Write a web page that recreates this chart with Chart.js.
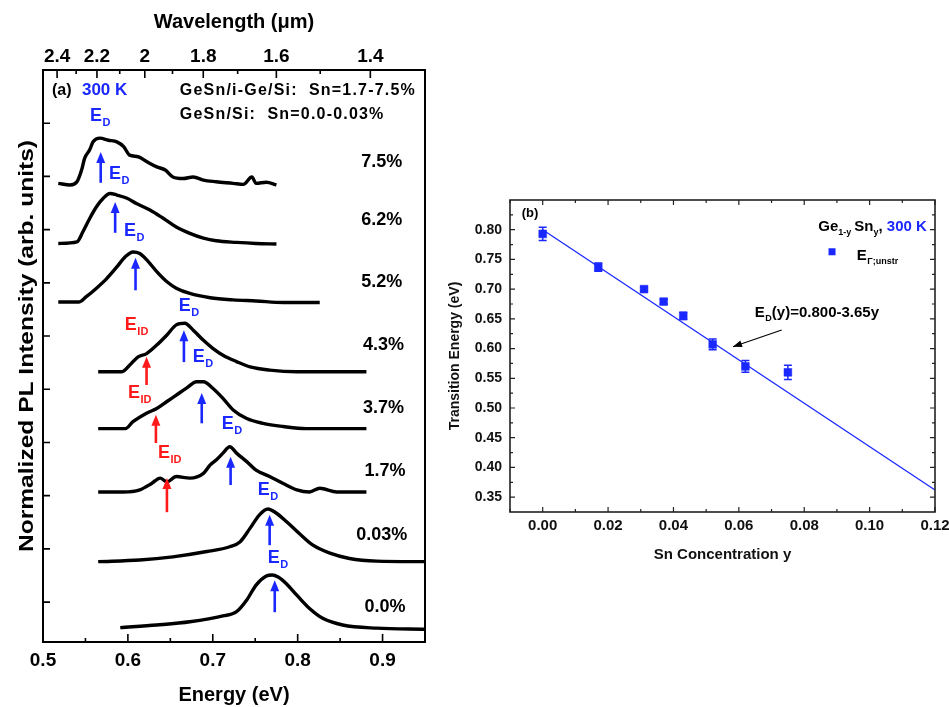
<!DOCTYPE html>
<html><head><meta charset="utf-8">
<script src="https://cdn.jsdelivr.net/npm/chart.js@4.4.1/dist/chart.umd.min.js"></script>
<style>
html,body{margin:0;padding:0;background:#fff;}
#wrap{position:relative;width:949px;height:707px;overflow:hidden;background:#fff;}
#c1{position:absolute;left:0;top:0;}
#c2{position:absolute;left:440px;top:0;}
</style></head><body>
<div id="wrap">
<canvas id="c1" width="440" height="707"></canvas>
<canvas id="c2" width="509" height="707"></canvas>
</div>
<script>
// ---------------- Panel (a) data: PL spectra (energy in eV, offset intensity) ----------------
const e75 = [0.518,0.532,0.540,0.546,0.549,0.555,0.559,0.567,0.577,0.587,0.595,0.602,0.612,0.622,0.634,0.644,0.653,0.665,0.677,0.689,0.704,0.724,0.736,0.746,0.751,0.763,0.775];
const i75 = [7.87,7.84,7.90,8.15,8.34,8.50,8.65,8.72,8.68,8.65,8.56,8.40,8.37,8.28,8.18,8.12,7.99,7.96,7.99,7.93,7.90,7.87,7.85,7.99,7.87,7.89,7.84];
const e62 = [0.518,0.540,0.547,0.555,0.563,0.571,0.579,0.587,0.599,0.610,0.626,0.642,0.657,0.673,0.689,0.704,0.728,0.751,0.775];
const i62 = [6.74,6.77,6.96,7.21,7.43,7.59,7.68,7.65,7.59,7.49,7.37,7.21,7.05,6.93,6.84,6.79,6.76,6.74,6.73];
const e52 = [0.518,0.542,0.551,0.563,0.575,0.587,0.597,0.606,0.614,0.624,0.634,0.646,0.657,0.673,0.697,0.724,0.751,0.783,0.826];
const i52 = [5.64,5.64,5.74,5.90,6.08,6.30,6.49,6.58,6.55,6.40,6.21,6.02,5.90,5.80,5.72,5.68,5.66,5.63,5.63];
const e43 = [0.565,0.593,0.602,0.612,0.622,0.634,0.646,0.657,0.667,0.677,0.689,0.700,0.712,0.728,0.744,0.767,0.799,0.838,0.881];
const i43 = [4.33,4.33,4.45,4.61,4.67,4.83,5.02,5.21,5.24,5.11,4.92,4.77,4.64,4.52,4.42,4.36,4.33,4.33,4.33];
const e37 = [0.565,0.597,0.606,0.622,0.634,0.646,0.657,0.669,0.681,0.689,0.700,0.712,0.724,0.740,0.759,0.783,0.810,0.846,0.881];
const i37 = [3.26,3.26,3.39,3.55,3.64,3.77,3.89,4.02,4.14,4.14,4.02,3.83,3.61,3.45,3.36,3.30,3.26,3.26,3.26];
const e17 = [0.565,0.595,0.614,0.628,0.638,0.646,0.657,0.673,0.689,0.697,0.704,0.712,0.720,0.728,0.740,0.751,0.767,0.783,0.799,0.814,0.826,0.846,0.881];
const i17 = [2.07,2.07,2.11,2.23,2.33,2.26,2.36,2.33,2.42,2.58,2.67,2.80,2.92,2.80,2.64,2.48,2.36,2.23,2.11,2.07,2.14,2.07,2.07];
const e003 = [0.565,0.614,0.653,0.693,0.720,0.732,0.744,0.755,0.765,0.775,0.787,0.802,0.818,0.838,0.861,0.893,0.950];
const i003 = [0.76,0.79,0.85,0.95,1.04,1.13,1.39,1.64,1.75,1.67,1.51,1.29,1.07,0.92,0.82,0.77,0.76];
const e00 = [0.591,0.634,0.673,0.712,0.728,0.740,0.751,0.763,0.770,0.777,0.787,0.799,0.814,0.830,0.853,0.893,0.950];
const i00 = [-0.48,-0.43,-0.37,-0.26,-0.18,0.04,0.32,0.49,0.51,0.47,0.34,0.13,-0.12,-0.31,-0.43,-0.49,-0.51];

const sampleNames = ['7.5%','6.2%','5.2%','4.3%','3.7%','1.7%','0.03%','0.0%'];
const sampleLabelE = [0.899,0.899,0.899,0.901,0.901,0.903,0.899,0.903];
const sampleLabelV = [8.27,7.18,6.02,4.83,3.65,2.46,1.26,-0.09];

// E_D arrows (blue) and E_ID arrows (red)
const edArrowE = [0.568,0.585,0.609,0.666,0.687,0.721,0.767,0.773];
const edArrowFrom = [7.88,6.94,5.86,4.51,3.36,2.20,1.07,-0.19];
const edArrowTo = [8.46,7.52,6.47,5.11,3.93,2.73,1.64,0.41];
const edLabelE = [0.5624,0.5847,0.6024,0.6671,0.6835,0.7176,0.760,0.7718];
const edLabelV = [9.14,8.05,6.97,5.56,4.61,3.35,2.11,0.83];
const idArrowE = [0.622,0.633,0.646];
const idArrowFrom = [4.08,2.99,1.69];
const idArrowTo = [4.61,3.52,2.33];
const idLabelE = [0.6035,0.6071,0.6424];
const idLabelV = [5.21,3.93,2.80];

// axis ticks
const energyTicks = [0.5,0.6,0.7,0.8,0.9];
const energyMinor = [0.55,0.65,0.75,0.85,0.95];
const wlTicks = [2.4,2.2,2.0,1.8,1.6,1.4];
const wlMinor = [2.3,2.1,1.9,1.7,1.5];
const intensityTicks = [0,1,2,3,4,5,6,7,8,9];
const HC = 1.23984; // eV*um

// ---------------- Panel (b) data ----------------
const snConc = [0.000,0.017,0.031,0.037,0.043,0.052,0.062,0.075];
const transE = [0.793,0.737,0.700,0.679,0.655,0.607,0.570,0.560];
const transErr = [0.011,0.007,0.003,0.004,0.006,0.009,0.010,0.012];
const fitX = [0.000,0.120];
const fitY = [0.800,0.362];
const concTicks = [0,0.02,0.04,0.06,0.08,0.10,0.12];
const concMinor = [-0.01,0.01,0.03,0.05,0.07,0.09,0.11];
const energyBTicks = [0.35,0.40,0.45,0.50,0.55,0.60,0.65,0.70,0.75,0.80];
const energyBMinor = [0.375,0.425,0.475,0.525,0.575,0.625,0.675,0.725,0.775,0.825];

const FONT = "'Liberation Sans', Arial, Helvetica, sans-serif";
const BLUE = '#1a28ff';
const RED = '#ff1a1a';
Chart.defaults.font.family = FONT;
Chart.defaults.color = '#000';

function innerTicks(ctx, chart, scaleId, values, len, side) {
  const s = chart.scales[scaleId], a = chart.chartArea;
  ctx.beginPath();
  values.forEach(v => {
    const p = s.getPixelForValue(v);
    if (side === 'bottom') { ctx.moveTo(p, a.bottom); ctx.lineTo(p, a.bottom - len); }
    if (side === 'top') { ctx.moveTo(p, a.top); ctx.lineTo(p, a.top + len); }
    if (side === 'left') { ctx.moveTo(a.left, p); ctx.lineTo(a.left + len, p); }
    if (side === 'right') { ctx.moveTo(a.right, p); ctx.lineTo(a.right - len, p); }
  });
  ctx.stroke();
}
function upArrow(ctx, x, yTail, yHead, color, lw, hw, hl) {
  ctx.strokeStyle = color; ctx.fillStyle = color; ctx.lineWidth = lw;
  ctx.beginPath(); ctx.moveTo(x, yTail); ctx.lineTo(x, yHead + hl - 1); ctx.stroke();
  ctx.beginPath(); ctx.moveTo(x, yHead); ctx.lineTo(x - hw, yHead + hl); ctx.lineTo(x + hw, yHead + hl); ctx.closePath(); ctx.fill();
}
function labelWithSub(ctx, x, y, main, sub, size, subSize, color, align) {
  ctx.fillStyle = color; ctx.textBaseline = 'middle';
  ctx.font = 'bold ' + size + 'px ' + FONT;
  const w = ctx.measureText(main).width;
  let left = align === 'center' ? x - w / 2 : x;
  ctx.textAlign = 'left';
  ctx.fillText(main, left, y);
  ctx.font = 'bold ' + subSize + 'px ' + FONT;
  ctx.fillText(sub, left + w + 0.5, y + size * 0.38);
  return left + w + 0.5 + ctx.measureText(sub).width;
}

// ---------------- Panel (a) ----------------
const spectra = [[e75,i75],[e62,i62],[e52,i52],[e43,i43],[e37,i37],[e17,i17],[e003,i003],[e00,i00]];

const leftPlugin = {
  id: 'leftDecor',
  afterDraw(chart) {
    const ctx = chart.ctx, a = chart.chartArea;
    const X = chart.scales.x, Y = chart.scales.y;
    ctx.save();
    // frame
    ctx.strokeStyle = '#000'; ctx.lineWidth = 2;
    ctx.strokeRect(a.left, a.top, a.right - a.left, a.bottom - a.top);
    ctx.lineWidth = 1.6;
    innerTicks(ctx, chart, 'x', energyTicks, 8, 'bottom');
    innerTicks(ctx, chart, 'x', energyMinor, 4, 'bottom');
    innerTicks(ctx, chart, 'x2', wlTicks.map(w => HC / w), 8, 'top');
    innerTicks(ctx, chart, 'x2', wlMinor.map(w => HC / w), 4, 'top');
    innerTicks(ctx, chart, 'y', intensityTicks, 7, 'left');
    // y title (stretched along its direction)
    const yt = 'Normalized PL Intensity (arb. units)';
    ctx.save();
    ctx.translate(a.left - 16, (a.top + a.bottom) / 2 - 10);
    ctx.rotate(-Math.PI / 2);
    ctx.font = 'bold 20px ' + FONT;
    const tw = ctx.measureText(yt).width;
    ctx.scale(412 / tw, 1);
    ctx.textAlign = 'center'; ctx.textBaseline = 'middle'; ctx.fillStyle = '#000';
    ctx.fillText(yt, 0, 0);
    ctx.restore();
    // arrows
    edArrowE.forEach((e, k) => upArrow(ctx, X.getPixelForValue(e), Y.getPixelForValue(edArrowFrom[k]), Y.getPixelForValue(edArrowTo[k]), BLUE, 2.6, 4.5, 11));
    idArrowE.forEach((e, k) => upArrow(ctx, X.getPixelForValue(e), Y.getPixelForValue(idArrowFrom[k]), Y.getPixelForValue(idArrowTo[k]), RED, 2.6, 4.5, 11));
    edLabelE.forEach((e, k) => labelWithSub(ctx, X.getPixelForValue(e), Y.getPixelForValue(edLabelV[k]), 'E', 'D', 18, 11, BLUE, 'center'));
    idLabelE.forEach((e, k) => labelWithSub(ctx, X.getPixelForValue(e), Y.getPixelForValue(idLabelV[k]), 'E', 'ID', 18, 11, RED, 'center'));
    // sample labels
    ctx.font = 'bold 18px ' + FONT; ctx.fillStyle = '#000'; ctx.textAlign = 'center'; ctx.textBaseline = 'middle';
    sampleNames.forEach((n, k) => ctx.fillText(n, X.getPixelForValue(sampleLabelE[k]), Y.getPixelForValue(sampleLabelV[k])));
    // header
    ctx.textAlign = 'left';
    ctx.font = 'bold 16px ' + FONT; ctx.fillStyle = '#000';
    ctx.fillText('(a)', X.getPixelForValue(0.5106), Y.getPixelForValue(9.61));
    ctx.font = 'bold 17px ' + FONT; ctx.fillStyle = BLUE;
    ctx.fillText('300 K', X.getPixelForValue(0.5459), Y.getPixelForValue(9.61));
    ctx.font = 'bold 16px ' + FONT; ctx.fillStyle = '#000';
    try { ctx.letterSpacing = '1.2px'; } catch (err) {}
    ctx.fillText('GeSn/i-Ge/Si:  Sn=1.7-7.5%', X.getPixelForValue(0.6612), Y.getPixelForValue(9.61));
    ctx.fillText('GeSn/Si:  Sn=0.0-0.03%', X.getPixelForValue(0.6612), Y.getPixelForValue(9.16));
    try { ctx.letterSpacing = '0px'; } catch (err) {}
    ctx.restore();
  }
};

new Chart(document.getElementById('c1'), {
  type: 'line',
  data: {
    datasets: spectra.map(s => ({
      data: s[0].map((x, k) => ({ x, y: s[1][k] })),
      borderColor: '#000', borderWidth: 3.4, pointRadius: 0,
      cubicInterpolationMode: 'monotone', fill: false
    }))
  },
  options: {
    responsive: false, animation: false,
    layout: { padding: { left: 0, top: 0, right: 15, bottom: 0 } },
    plugins: { legend: { display: false }, tooltip: { enabled: false } },
    scales: {
      x: {
        type: 'linear', position: 'bottom', min: 0.5, max: 0.95,
        grid: { display: false, drawTicks: false }, border: { display: false },
        ticks: { font: { size: 19, weight: 'bold' }, color: '#000', padding: 7, maxRotation: 0, autoSkip: false,
          callback: v => Number(v).toFixed(1) },
        afterBuildTicks: s => { s.ticks = energyTicks.map(v => ({ value: v })); },
        afterFit: s => { s.height = 65; s.paddingLeft = 0; s.paddingRight = 0; },
        title: { display: true, text: 'Energy (eV)', font: { size: 20, weight: 'bold' }, color: '#000', padding: { top: 0, bottom: 0 } }
      },
      x2: {
        type: 'linear', position: 'top', min: 0.5, max: 0.95,
        grid: { display: false, drawTicks: false }, border: { display: false },
        ticks: { font: { size: 19, weight: 'bold' }, color: '#000', padding: 2, maxRotation: 0, autoSkip: false,
          callback: v => String(Number((HC / v).toFixed(1))) },
        afterBuildTicks: s => { s.ticks = wlTicks.map(w => ({ value: HC / w })); },
        afterFit: s => { s.height = 70; s.paddingLeft = 0; s.paddingRight = 0; },
        title: { display: true, text: 'Wavelength (\u03bcm)', font: { size: 20, weight: 'bold' }, color: '#000', padding: { top: 10, bottom: 0 } }
      },
      y: {
        type: 'linear', position: 'left', min: -0.75, max: 10,
        grid: { display: false, drawTicks: false }, border: { display: false },
        ticks: { display: false },
        afterBuildTicks: s => { s.ticks = intensityTicks.map(v => ({ value: v })); },
        afterFit: s => { s.width = 43; s.paddingTop = 0; s.paddingBottom = 0; }
      }
    }
  },
  plugins: [leftPlugin]
});

// ---------------- Panel (b) ----------------
const rightPlugin = {
  id: 'rightDecor',
  afterDatasetsDraw(chart) {
    const ctx = chart.ctx, X = chart.scales.x, Y = chart.scales.y;
    ctx.save();
    ctx.strokeStyle = BLUE; ctx.lineWidth = 1.5;
    snConc.forEach((c, k) => {
      const px = X.getPixelForValue(c);
      const y1 = Y.getPixelForValue(transE[k] + transErr[k]);
      const y2 = Y.getPixelForValue(transE[k] - transErr[k]);
      ctx.beginPath();
      ctx.moveTo(px, y1); ctx.lineTo(px, y2);
      ctx.moveTo(px - 4, y1); ctx.lineTo(px + 4, y1);
      ctx.moveTo(px - 4, y2); ctx.lineTo(px + 4, y2);
      ctx.stroke();
    });
    ctx.restore();
  },
  afterDraw(chart) {
    const ctx = chart.ctx, a = chart.chartArea, X = chart.scales.x, Y = chart.scales.y;
    ctx.save();
    ctx.strokeStyle = '#222'; ctx.lineWidth = 1.6;
    ctx.strokeRect(a.left, a.top, a.right - a.left, a.bottom - a.top);
    ctx.lineWidth = 1.2;
    innerTicks(ctx, chart, 'x', concTicks, 5, 'bottom');
    innerTicks(ctx, chart, 'x', concMinor, 3, 'bottom');
    innerTicks(ctx, chart, 'x', concTicks, 5, 'top');
    innerTicks(ctx, chart, 'x', concMinor, 3, 'top');
    innerTicks(ctx, chart, 'y', energyBTicks, 5, 'left');
    innerTicks(ctx, chart, 'y', energyBMinor, 3, 'left');
    innerTicks(ctx, chart, 'y', energyBTicks, 5, 'right');
    innerTicks(ctx, chart, 'y', energyBMinor, 3, 'right');
    // (b)
    ctx.fillStyle = '#000'; ctx.font = 'bold 13px ' + FONT; ctx.textAlign = 'left'; ctx.textBaseline = 'middle';
    ctx.fillText('(b)', X.getPixelForValue(-0.0064), Y.getPixelForValue(0.827));
    // legend title: Ge1-y Sny, 300 K (right aligned)
    ctx.font = 'bold 15px ' + FONT;
    const t3 = '300 K';
    const w3 = ctx.measureText(t3).width;
    const right = X.getPixelForValue(0.1175), ty = Y.getPixelForValue(0.805);
    const geW = ctx.measureText('Ge').width, snW = ctx.measureText('Sn').width, cW = ctx.measureText(', ').width;
    ctx.font = 'bold 9px ' + FONT;
    const s1W = ctx.measureText('1-y').width, s2W = ctx.measureText('y').width;
    let x0 = right - (geW + s1W + 3 + snW + s2W + cW + w3);
    ctx.fillStyle = '#000';
    ctx.font = 'bold 15px ' + FONT; ctx.fillText('Ge', x0, ty); x0 += geW;
    ctx.font = 'bold 9px ' + FONT; ctx.fillText('1-y', x0, ty + 6); x0 += s1W + 3;
    ctx.font = 'bold 15px ' + FONT; ctx.fillText('Sn', x0, ty); x0 += snW;
    ctx.font = 'bold 9px ' + FONT; ctx.fillText('y', x0, ty + 6); x0 += s2W;
    ctx.font = 'bold 15px ' + FONT; ctx.fillText(', ', x0, ty); x0 += cW;
    ctx.fillStyle = BLUE; ctx.fillText(t3, x0, ty);
    // legend entry
    const mx = X.getPixelForValue(0.0885), my = Y.getPixelForValue(0.7629);
    ctx.fillStyle = BLUE; ctx.fillRect(mx - 3.5, my - 3.5, 7, 7);
    labelWithSub(ctx, X.getPixelForValue(0.0961), Y.getPixelForValue(0.756), 'E', '\u0393;unstr', 15, 9, '#000', 'left');
    // fit annotation
    const ax = X.getPixelForValue(0.0649), ay = Y.getPixelForValue(0.660);
    let ex = labelWithSub(ctx, ax, ay, 'E', 'D', 15, 9, '#000', 'left');
    ctx.font = 'bold 15px ' + FONT; ctx.fillText('(y)=0.800-3.65y', ex, ay);
    const x1 = X.getPixelForValue(0.0731), y1 = Y.getPixelForValue(0.6313);
    const x2 = X.getPixelForValue(0.0582), y2 = Y.getPixelForValue(0.6031);
    ctx.strokeStyle = '#000'; ctx.lineWidth = 1.1;
    ctx.beginPath(); ctx.moveTo(x1, y1); ctx.lineTo(x2, y2); ctx.stroke();
    const ang = Math.atan2(y2 - y1, x2 - x1);
    ctx.fillStyle = '#000';
    ctx.beginPath();
    ctx.moveTo(x2, y2);
    ctx.lineTo(x2 - 9 * Math.cos(ang) + 3.5 * Math.sin(ang), y2 - 9 * Math.sin(ang) - 3.5 * Math.cos(ang));
    ctx.lineTo(x2 - 9 * Math.cos(ang) - 3.5 * Math.sin(ang), y2 - 9 * Math.sin(ang) + 3.5 * Math.cos(ang));
    ctx.closePath(); ctx.fill();
    ctx.restore();
  }
};

new Chart(document.getElementById('c2'), {
  type: 'scatter',
  data: {
    datasets: [
      { type: 'line', data: fitX.map((x, k) => ({ x, y: fitY[k] })), borderColor: BLUE, borderWidth: 1.3, pointRadius: 0, fill: false, order: 2 },
      { type: 'scatter', data: snConc.map((x, k) => ({ x, y: transE[k] })), pointStyle: 'rect', pointRadius: 5.5,
        backgroundColor: BLUE, borderColor: BLUE, borderWidth: 0.5, order: 1 }
    ]
  },
  options: {
    responsive: false, animation: false,
    layout: { padding: { left: 0, top: 200, right: 14, bottom: 135 } },
    plugins: { legend: { display: false }, tooltip: { enabled: false } },
    scales: {
      x: {
        type: 'linear', position: 'bottom', min: -0.01, max: 0.12,
        grid: { display: false, drawTicks: false }, border: { display: false },
        ticks: { font: { size: 15, weight: 'bold' }, color: '#111', padding: 5, maxRotation: 0, autoSkip: false,
          callback: v => Number(v).toFixed(2) },
        afterBuildTicks: s => { s.ticks = concTicks.map(v => ({ value: v })); },
        afterFit: s => { s.height = 60; s.paddingLeft = 0; s.paddingRight = 0; },
        title: { display: true, text: 'Sn Concentration y', font: { size: 15, weight: 'bold' }, color: '#111', padding: { top: 0, bottom: 8 } }
      },
      y: {
        type: 'linear', position: 'left', min: 0.325, max: 0.85,
        grid: { display: false, drawTicks: false }, border: { display: false },
        ticks: { font: { size: 14, weight: 'bold' }, color: '#111', padding: 8, autoSkip: false,
          callback: v => Number(v).toFixed(2) },
        afterBuildTicks: s => { s.ticks = energyBTicks.map(v => ({ value: v })); },
        afterFit: s => { s.width = 70; s.paddingTop = 0; s.paddingBottom = 0; },
        title: { display: true, text: 'Transition Energy (eV)', font: { size: 14, weight: 'bold' }, color: '#111', padding: { top: 7, bottom: 0 } }
      }
    }
  },
  plugins: [rightPlugin]
});
</script>
</body></html>
